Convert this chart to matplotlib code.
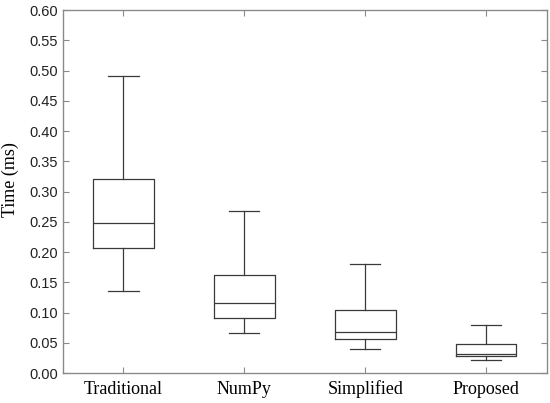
import matplotlib
matplotlib.use("Agg")
import matplotlib.pyplot as plt

# box statistics (ms)
methods = ["Traditional", "NumPy", "Simplified", "Proposed"]
whislo = [0.136, 0.066, 0.040, 0.0215]
q1 = [0.206, 0.0915, 0.0557, 0.0287]
med = [0.248, 0.115, 0.067, 0.032]
q3 = [0.320, 0.162, 0.105, 0.0485]
whishi = [0.491, 0.268, 0.180, 0.080]

stats = []
for i in range(len(methods)):
    stats.append(dict(label=methods[i], whislo=whislo[i], q1=q1[i], med=med[i],
                      q3=q3[i], whishi=whishi[i], fliers=[]))

line_c = "#3a3a3a"
frame_c = "#8a8a8a"

fig = plt.figure(figsize=(5.5, 4.03), dpi=100)
ax = fig.add_axes([0.1145, 0.0744, 0.8795, 0.9006])

props = dict(color=line_c, linewidth=0.9)
ax.bxp(stats, positions=[1, 2, 3, 4], widths=0.5, showfliers=False,
       boxprops=props, whiskerprops=props, capprops=props, medianprops=props)

ax.set_xlim(0.5, 4.5)
ax.set_ylim(0, 0.60)
ax.set_yticks([i * 0.05 for i in range(13)])
ax.set_yticklabels(["%.2f" % (i * 0.05) for i in range(13)],
                   family="Liberation Sans", fontsize=10.5, color="#222222")
ax.set_xticks([1, 2, 3, 4])
ax.set_xticklabels(methods, family="Liberation Serif", fontsize=13, va="baseline")

for s in ax.spines.values():
    s.set_color(frame_c)
    s.set_linewidth(1.0)

ax.tick_params(direction="in", length=4, width=0.8, color=frame_c,
               top=True, right=True)
ax.tick_params(axis="x", pad=15)

ax.set_ylabel("Time (ms)", family="Liberation Serif", fontsize=13)
ax.yaxis.set_label_coords(-0.09, 0.532)

plt.savefig("out.png", dpi=100)
